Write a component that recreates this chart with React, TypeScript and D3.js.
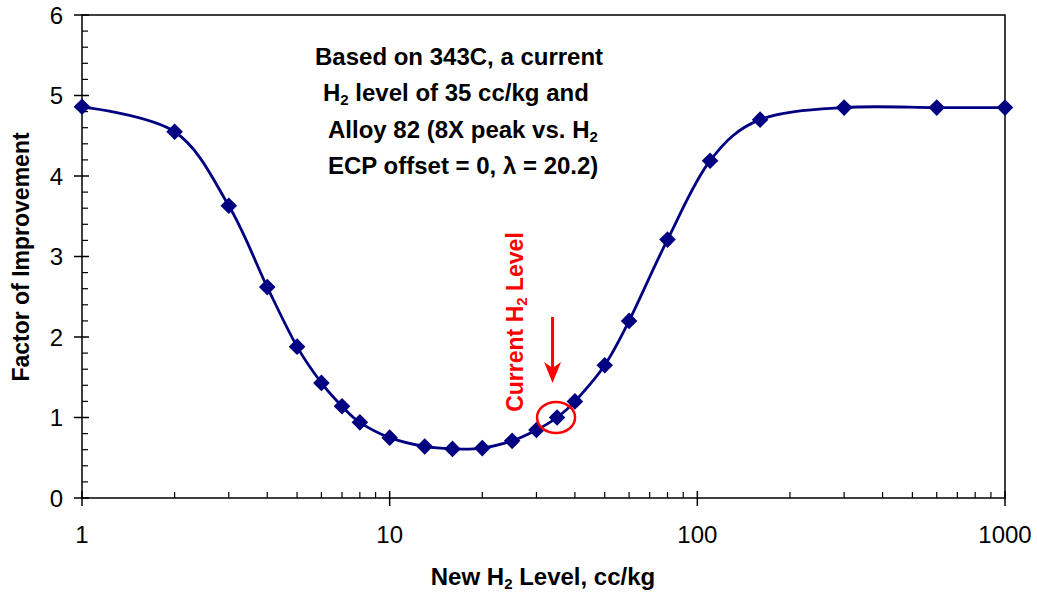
import React from "react";
import * as d3 from "d3";

const h2Levels: number[] = [1, 2, 3, 4, 5, 6, 7, 8, 10, 13, 16, 20, 25, 30, 35, 40, 50, 60, 80, 110, 160, 300, 600, 1000];
const improvement: number[] = [4.86, 4.55, 3.63, 2.62, 1.88, 1.43, 1.14, 0.94, 0.75, 0.64, 0.61, 0.62, 0.71, 0.845, 1.0, 1.2, 1.65, 2.2, 3.21, 4.19, 4.7, 4.85, 4.85, 4.85];
const yTicks: number[] = [0, 1, 2, 3, 4, 5, 6];
const xTicks: number[] = [1, 10, 100, 1000];
const annotationLines: string[][] = [
  ["Based on 343C, a current", ""],
  ["H", "2", " level of 35 cc/kg and"],
  ["Alloy 82 (8X peak vs. H", "2", ""],
  ["ECP offset = 0, \u03bb = 20.2)", ""],
];
const currentLevel = 35;

const W = 1037;
const H = 594;
const FONT = "'Liberation Sans', Arial, Helvetica, sans-serif";
const NAVY = "#000080";

export default function App() {
  const x = d3.scaleLog().domain([1, 1000]).range([82, 1005]);
  const y = d3.scaleLinear().domain([0, 6]).range([498, 15]);

  const pts: [number, number][] = h2Levels.map((v, i) => [x(v), y(improvement[i])]);
  const line = d3.line().curve(d3.curveCardinal.tension(0))(pts) || "";

  const yMinor = d3.range(0, 6.001, 0.2).filter((v) => Math.abs(v - Math.round(v)) > 1e-6);
  const xMinor: number[] = [];
  for (const dec of [1, 10, 100]) for (let k = 2; k <= 9; k++) xMinor.push(dec * k);

  const ci = h2Levels.indexOf(currentLevel);
  const cx = x(currentLevel);
  const cy = y(improvement[ci]);

  const annX = [315, 323, 328, 328];
  const annY = [65, 101, 138, 174];
  const m = 8.3;

  return (
    <div style={{ position: "absolute", left: 0, top: 0 }}>
      <svg width={W} height={H} style={{ display: "block", background: "#fff" }} fontFamily={FONT}>
        <rect x={x(1)} y={y(6)} width={x(1000) - x(1)} height={y(0) - y(6)} fill="none" stroke="#000" strokeWidth={1.5} />
        {yMinor.map((v) => (
          <line key={"ym" + v} x1={x(1)} x2={x(1) + 6} y1={y(v)} y2={y(v)} stroke="#000" strokeWidth={1.2} />
        ))}
        {yTicks.map((v) => (
          <g key={"y" + v}>
            <line x1={x(1) - 8} x2={x(1) + 7} y1={y(v)} y2={y(v)} stroke="#000" strokeWidth={1.5} />
            <text x={63} y={y(v) + 8.5} textAnchor="end" fontSize={24} fill="#000">{v}</text>
          </g>
        ))}
        {xMinor.map((v) => (
          <line key={"xm" + v} x1={x(v)} x2={x(v)} y1={y(0) - 6} y2={y(0)} stroke="#000" strokeWidth={1.2} />
        ))}
        {xTicks.map((v) => (
          <g key={"x" + v}>
            <line x1={x(v)} x2={x(v)} y1={y(0) - 7} y2={y(0) + 8} stroke="#000" strokeWidth={1.5} />
            <text x={x(v)} y={543} textAnchor="middle" fontSize={24} fill="#000">{v}</text>
          </g>
        ))}
        <path d={line} fill="none" stroke={NAVY} strokeWidth={2.8} />
        {pts.map(([px, py], i) => (
          <path key={"m" + i} d={`M${px},${py - m}L${px + m},${py}L${px},${py + m}L${px - m},${py}Z`} fill={NAVY} />
        ))}
        {annotationLines.map((parts, i) => (
          <text key={"a" + i} x={annX[i]} y={annY[i]} fontSize={24} fontWeight="bold" fill="#000">
            {parts.length === 3 ? (
              <>
                <tspan>{parts[0]}</tspan>
                <tspan fontSize={15} dy={4}>{parts[1]}</tspan>
                <tspan dy={-4}>{parts[2]}</tspan>
              </>
            ) : (
              parts[0]
            )}
          </text>
        ))}
        <ellipse cx={cx - 1} cy={cy} rx={19} ry={15.5} fill="none" stroke="#ff0000" strokeWidth={2.5} />
        <line x1={cx - 4.5} x2={cx - 4.5} y1={317} y2={372} stroke="#ff0000" strokeWidth={3} />
        <path d={`M${cx - 4.5},${383} L${cx - 13},${362} L${cx - 4.5},${368} L${cx + 4},${362} Z`} fill="#ff0000" />
        <text transform={`translate(523,322) rotate(-90)`} textAnchor="middle" fontSize={23} fontWeight="bold" fill="#ff0000">
          <tspan>Current H</tspan>
          <tspan fontSize={15} dy={4}>2</tspan>
          <tspan dy={-4}> Level</tspan>
        </text>
        <text x={543} y={585} textAnchor="middle" fontSize={24} fontWeight="bold" fill="#000">
          <tspan>New H</tspan>
          <tspan fontSize={15} dy={4}>2</tspan>
          <tspan dy={-4}> Level, cc/kg</tspan>
        </text>
        <text transform={`translate(29,257) rotate(-90)`} textAnchor="middle" fontSize={23} fontWeight="bold" fill="#000">
          Factor of Improvement
        </text>
      </svg>
    </div>
  );
}
